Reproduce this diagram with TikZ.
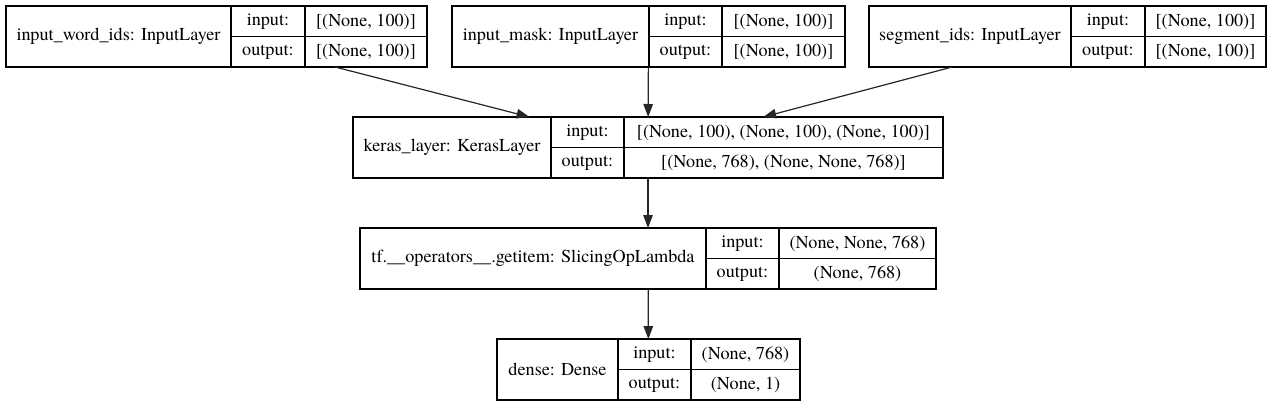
\documentclass[tikz,border=0pt]{standalone}
\usepackage{fontspec}
\newfontfamily\termes{texgyretermes-regular.otf}
\usetikzlibrary{arrows.meta}
\begin{document}
\begin{tikzpicture}[x=1pt,y=-1pt,
  lbox/.style={draw=black,line width=1.1pt,inner sep=0pt,outer sep=0pt,minimum height=61pt},
  txt/.style={inner sep=0pt,font=\termes\fontsize{18.2}{20}\selectfont},
  cell/.style={draw=black,line width=1.1pt},
  conn/.style={draw=black!85,line width=1.2pt,-{Triangle[length=13pt,width=9.5pt]}}]
\useasboundingbox (0,0) rectangle (1273,405);
% Layer 1
\node[lbox,minimum width=421pt] (L1) at (216.5,36.5) {};
\draw[cell] (231,6) -- (231,67) (305,6) -- (305,67) (231,36.5) -- (427,36.5);
\node[txt] (L1n) at (118.5,36.5) {input\_word\_ids: InputLayer};
\node[txt] (L1a) at (268,21.5) {input:};
\node[txt] (L1b) at (268,52) {output:};
\node[txt] (L1c) at (366,21.5) {[(None, 100)]};
\node[txt] (L1d) at (366,52) {[(None, 100)]};
% Layer 2
\node[lbox,minimum width=393pt] (L2) at (648.5,36.5) {};
\draw[cell] (649,6) -- (649,67) (722,6) -- (722,67) (649,36.5) -- (845,36.5);
\node[txt] (L2n) at (550.5,36.5) {input\_mask: InputLayer};
\node[txt] (L2a) at (685.5,21.5) {input:};
\node[txt] (L2b) at (685.5,52) {output:};
\node[txt] (L2c) at (783.5,21.5) {[(None, 100)]};
\node[txt] (L2d) at (783.5,52) {[(None, 100)]};
% Layer 3
\node[lbox,minimum width=397pt] (L3) at (1067.5,36.5) {};
\draw[cell] (1071,6) -- (1071,67) (1145,6) -- (1145,67) (1071,36.5) -- (1266,36.5);
\node[txt] (L3n) at (970,36.5) {segment\_ids: InputLayer};
\node[txt] (L3a) at (1108,21.5) {input:};
\node[txt] (L3b) at (1108,52) {output:};
\node[txt] (L3c) at (1205.5,21.5) {[(None, 100)]};
\node[txt] (L3d) at (1205.5,52) {[(None, 100)]};
% Layer 4
\node[lbox,minimum width=590pt] (L4) at (648,147.5) {};
\draw[cell] (551,117) -- (551,178) (624,117) -- (624,178) (551,147.5) -- (943,147.5);
\node[txt] (L4n) at (452,147.5) {keras\_layer: KerasLayer};
\node[txt] (L4a) at (587.5,132.5) {input:};
\node[txt] (L4b) at (587.5,163) {output:};
\node[txt] (L4c) at (783.5,132.5) {[(None, 100), (None, 100), (None, 100)]};
\node[txt] (L4d) at (783.5,163) {[(None, 768), (None, None, 768)]};
% Layer 5
\node[lbox,minimum width=576pt] (L5) at (648,258.5) {};
\draw[cell] (706,228) -- (706,289) (779,228) -- (779,289) (706,258.5) -- (936,258.5);
\node[txt] (L5n) at (533,258.5) {tf.\_\_operators\_\_.getitem: SlicingOpLambda};
\node[txt] (L5a) at (742.5,243.5) {input:};
\node[txt] (L5b) at (742.5,274) {output:};
\node[txt] (L5c) at (857.5,243.5) {(None, None, 768)};
\node[txt] (L5d) at (857.5,274) {(None, 768)};
% Layer 6
\node[lbox,minimum width=303pt] (L6) at (648.5,369.5) {};
\draw[cell] (618,339) -- (618,400) (691,339) -- (691,400) (618,369.5) -- (800,369.5);
\node[txt] (L6n) at (557.5,369.5) {dense: Dense};
\node[txt] (L6a) at (654.5,354.5) {input:};
\node[txt] (L6b) at (654.5,385) {output:};
\node[txt] (L6c) at (745.5,354.5) {(None, 768)};
\node[txt] (L6d) at (745.5,385) {(None, 1)};
% Connectors
\draw[conn] (L1) -- (L4);
\draw[conn] (L2) -- (L4);
\draw[conn] (L3) -- (L4);
\draw[conn] (L4) -- (L5);
\draw[conn] (L5) -- (L6);
\end{tikzpicture}
\end{document}
